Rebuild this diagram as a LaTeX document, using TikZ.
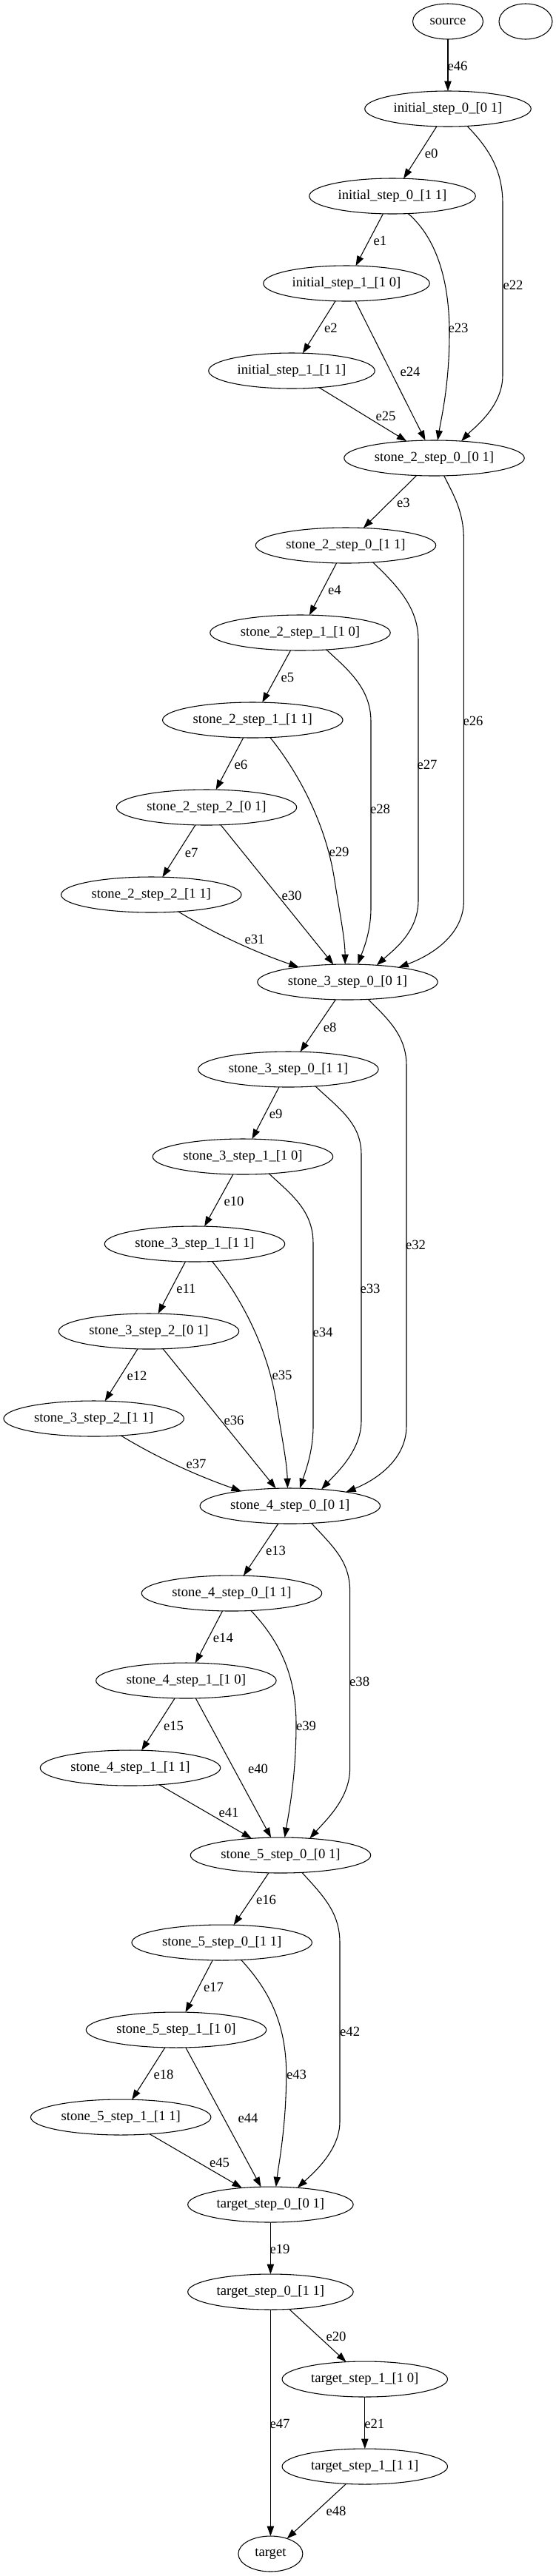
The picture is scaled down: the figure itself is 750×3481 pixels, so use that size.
\documentclass[tikz,border=0pt]{standalone}
\usepackage{fontspec}
\setmainfont{Liberation Serif}
\usetikzlibrary{arrows.meta,shapes.geometric}
\begin{document}
\begin{tikzpicture}[x=0.75pt,y=-0.75pt,
  nd/.style={draw, ellipse, line width=0.8pt, inner sep=0pt, outer sep=0pt, minimum height=36pt, font=\fontsize{14pt}{16pt}\selectfont},
  ini/.style={nd, minimum width=168.4pt},
  sto/.style={nd, minimum width=182.6pt},
  tgs/.style={nd, minimum width=167.6pt},
  lbl/.style={inner sep=0pt, font=\fontsize{14pt}{16pt}\selectfont},
  edge/.style={line width=0.8pt, -{Triangle[length=10pt,width=7pt]}}
]
\useasboundingbox (0,0) rectangle (750,3481);
% nodes
\node[nd, minimum width=71.25pt] (source) at (605,29) {source};
\node[nd, minimum width=54pt] (blank) at (710,29) {};
\node[ini] (i00) at (605,147) {initial\_step\_0\_[0 1]};
\node[ini] (i01) at (530,265) {initial\_step\_0\_[1 1]};
\node[ini] (i10) at (468,383) {initial\_step\_1\_[1 0]};
\node[ini] (i11) at (394,501) {initial\_step\_1\_[1 1]};
\node[sto] (s2a) at (586.5,619) {stone\_2\_step\_0\_[0 1]};
\node[sto] (s2b) at (467,737) {stone\_2\_step\_0\_[1 1]};
\node[sto] (s2c) at (405.5,855) {stone\_2\_step\_1\_[1 0]};
\node[sto] (s2d) at (341.3,973) {stone\_2\_step\_1\_[1 1]};
\node[sto] (s2e) at (279,1091) {stone\_2\_step\_2\_[0 1]};
\node[sto] (s2f) at (204.3,1209) {stone\_2\_step\_2\_[1 1]};
\node[sto] (s3a) at (469.5,1327) {stone\_3\_step\_0\_[0 1]};
\node[sto] (s3b) at (389.4,1445) {stone\_3\_step\_0\_[1 1]};
\node[sto] (s3c) at (328,1563) {stone\_3\_step\_1\_[1 0]};
\node[sto] (s3d) at (263,1681) {stone\_3\_step\_1\_[1 1]};
\node[sto] (s3e) at (201,1799) {stone\_3\_step\_2\_[0 1]};
\node[sto] (s3f) at (126.7,1917) {stone\_3\_step\_2\_[1 1]};
\node[sto] (s4a) at (391.8,2035) {stone\_4\_step\_0\_[0 1]};
\node[sto] (s4b) at (313,2153) {stone\_4\_step\_0\_[1 1]};
\node[sto] (s4c) at (251.4,2271) {stone\_4\_step\_1\_[1 0]};
\node[sto] (s4d) at (176,2389) {stone\_4\_step\_1\_[1 1]};
\node[sto] (s5a) at (379,2507) {stone\_5\_step\_0\_[0 1]};
\node[sto] (s5b) at (299.7,2625) {stone\_5\_step\_0\_[1 1]};
\node[sto] (s5c) at (238,2743) {stone\_5\_step\_1\_[1 0]};
\node[sto] (s5d) at (163.2,2861) {stone\_5\_step\_1\_[1 1]};
\node[tgs] (t0a) at (365.4,2979) {target\_step\_0\_[0 1]};
\node[tgs] (t0b) at (365.4,3097) {target\_step\_0\_[1 1]};
\node[tgs] (t1a) at (492.8,3215) {target\_step\_1\_[1 0]};
\node[tgs] (t1b) at (492.8,3333) {target\_step\_1\_[1 1]};
\node[nd, minimum width=65.25pt] (target) at (365.4,3451) {target};
% edges
\draw[edge] (source) -- (i00);
\draw[edge] (i00) -- (i01);
\draw[edge] (i01) -- (i10);
\draw[edge] (i10) -- (i11);
\draw[edge] (i00.-42) .. controls (660,200) and (679,230) .. (679,275) -- (679,507) .. controls (679,550) and (640,578) .. (s2a.32);
\draw[edge] (i01.-48) .. controls (590,322) and (607,380) .. (607,450) .. controls (607,520) and (596,565) .. (s2a.79);
\draw[edge] (i10) -- (s2a);
\draw[edge] (i11) -- (s2a);
\draw[edge] (s2a) -- (s2b);
\draw[edge] (s2b) -- (s2c);
\draw[edge] (s2c) -- (s2d);
\draw[edge] (s2d) -- (s2e);
\draw[edge] (s2e) -- (s2f);
\draw[edge] (s2a.-61) .. controls (612,668) and (626.4,690) .. (626.4,730) -- (626.4,1217) .. controls (626.4,1265) and (580,1292) .. (s3a.16);
\draw[edge] (s2b.-32) .. controls (535,790) and (565,820) .. (565,865) -- (565,1217) .. controls (565,1260) and (530,1285) .. (s3a.30);
\draw[edge] (s2c.-33) .. controls (470,905) and (501,930) .. (501,975) -- (501,1227) .. controls (501,1260) and (490,1285) .. (s3a.60);
\draw[edge] (s2d.-45) .. controls (400,1040) and (440,1110) .. (452,1190) .. controls (460,1240) and (466,1270) .. (s3a.98);
\draw[edge] (s2e) -- (s3a);
\draw[edge] (s2f.-32) .. controls (300,1268) and (360,1292) .. (s3a.163);
\draw[edge] (s3a) -- (s3b);
\draw[edge] (s3b) -- (s3c);
\draw[edge] (s3c) -- (s3d);
\draw[edge] (s3d) -- (s3e);
\draw[edge] (s3e) -- (s3f);
\draw[edge] (s3a.-40) .. controls (525,1378) and (549,1400) .. (549,1440) -- (549,1927) .. controls (549,1975) and (503,2002) .. (s4a.14);
\draw[edge] (s3b.-32) .. controls (458,1498) and (488,1518) .. (488,1560) -- (488,1920) .. controls (488,1960) and (455,1990) .. (s4a.28);
\draw[edge] (s3c.-33) .. controls (392,1613) and (423,1635) .. (423,1680) -- (423,1927) .. controls (423,1962) and (412,1990) .. (s4a.61);
\draw[edge] (s3d.-45) .. controls (321.7,1748) and (361.7,1818) .. (373.7,1898) .. controls (381.7,1948) and (387.7,1978) .. (s4a.98);
\draw[edge] (s3e) -- (s4a);
\draw[edge] (s3f.-32) .. controls (222.4,1976) and (282.4,2000) .. (s4a.163);
\draw[edge] (s4a) -- (s4b);
\draw[edge] (s4b) -- (s4c);
\draw[edge] (s4c) -- (s4d);
\draw[edge] (s4a.-39) .. controls (450,2090) and (472.6,2110) .. (472.6,2150) -- (472.6,2390) .. controls (472.6,2430) and (440,2460) .. (s5a.30);
\draw[edge] (s4b.-42) .. controls (375,2215) and (400,2260) .. (400,2330) .. controls (400,2400) and (390,2450) .. (s5a.77);
\draw[edge] (s4c) -- (s5a);
\draw[edge] (s4d) -- (s5a);
\draw[edge] (s5a) -- (s5b);
\draw[edge] (s5b) -- (s5c);
\draw[edge] (s5c) -- (s5d);
\draw[edge] (s5a.-39) .. controls (437,2562) and (459,2585) .. (459,2625) -- (459,2867) .. controls (459,2905) and (425,2935) .. (t0a.32);
\draw[edge] (s5b.-42) .. controls (361.7,2687.5) and (386.7,2732.5) .. (386.7,2802.5) .. controls (386.7,2872.5) and (376.7,2922.5) .. (t0a.73);
\draw[edge] (s5c) -- (t0a);
\draw[edge] (s5d) -- (t0a);
\draw[edge] (t0a) -- (t0b);
\draw[edge] (t0b) -- (t1a);
\draw[edge] (t1a) -- (t1b);
\draw[edge] (t0b) -- (target);
\draw[edge] (t1b) -- (target);
% edge labels
\node[lbl] (l46) at (618,89) {e46};
\node[lbl] (l0) at (582.7,207) {e0};
\node[lbl] (l1) at (513.5,325) {e1};
\node[lbl] (l2) at (447,443) {e2};
\node[lbl] (l22) at (693,385) {e22};
\node[lbl] (l23) at (619,443) {e23};
\node[lbl] (l24) at (554,502) {e24};
\node[lbl] (l25) at (521,562) {e25};
\node[lbl] (l3) at (545,679) {e3};
\node[lbl] (l4) at (452,797) {e4};
\node[lbl] (l26) at (639,974) {e26};
\node[lbl] (l27) at (577,1033) {e27};
\node[lbl] (l5) at (388.5,915) {e5};
\node[lbl] (l6) at (325.5,1033) {e6};
\node[lbl] (l28) at (513.5,1093) {e28};
\node[lbl] (l29) at (458,1151) {e29};
\node[lbl] (l7) at (258.7,1152) {e7};
\node[lbl] (l30) at (394,1210) {e30};
\node[lbl] (l31) at (344,1269) {e31};
\node[lbl] (l8) at (445.7,1388) {e8};
\node[lbl] (l9) at (372.6,1505) {e9};
\node[lbl] (l10) at (316,1623) {e10};
\node[lbl] (l32) at (561.5,1682) {e32};
\node[lbl] (l11) at (251.4,1741) {e11};
\node[lbl] (l33) at (500,1741) {e33};
\node[lbl] (l34) at (436,1800) {e34};
\node[lbl] (l12) at (185,1859) {e12};
\node[lbl] (l35) at (381,1858) {e35};
\node[lbl] (l36) at (316,1919) {e36};
\node[lbl] (l37) at (265,1978) {e37};
\node[lbl] (l13) at (372.6,2095) {e13};
\node[lbl] (l14) at (301.4,2213) {e14};
\node[lbl] (l38) at (485.6,2272) {e38};
\node[lbl] (l15) at (234.6,2332) {e15};
\node[lbl] (l39) at (413.5,2332) {e39};
\node[lbl] (l40) at (348.6,2390) {e40};
\node[lbl] (l41) at (309,2449) {e41};
\node[lbl] (l16) at (359.6,2567) {e16};
\node[lbl] (l17) at (288.5,2685) {e17};
\node[lbl] (l42) at (472.6,2745) {e42};
\node[lbl] (l18) at (221,2803) {e18};
\node[lbl] (l43) at (400.5,2803) {e43};
\node[lbl] (l44) at (335,2862) {e44};
\node[lbl] (l45) at (296.6,2922) {e45};
\node[lbl] (l19) at (378,3039) {e19};
\node[lbl] (l20) at (454,3157) {e20};
\node[lbl] (l21) at (505.8,3275) {e21};
\node[lbl] (l47) at (378,3275) {e47};
\node[lbl] (l48) at (454,3393) {e48};
\end{tikzpicture}
\end{document}
